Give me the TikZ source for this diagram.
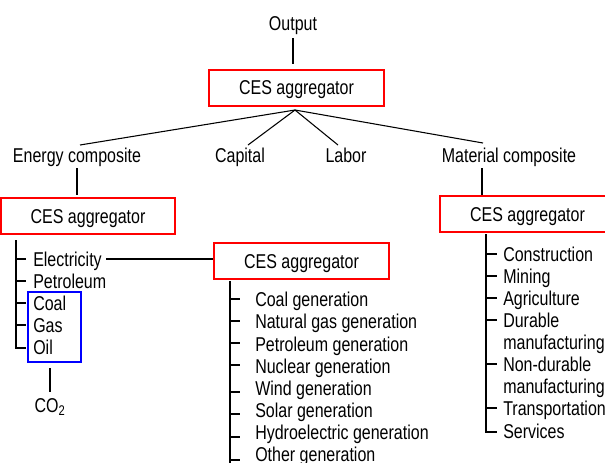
\documentclass[tikz,border=0pt]{standalone}
\usepackage{fontspec}
\setmainfont{Liberation Sans}[FakeStretch=0.8]
\begin{document}
\begin{tikzpicture}[x=0.75pt,y=-0.75pt,
  every node/.style={font=\fontsize{15}{17}\selectfont, inner sep=0pt},
  ces/.style={draw=red, line width=1.5pt, minimum width=#1*0.75pt, minimum height=27pt, text depth=0pt, text height=10.5pt},
  grp/.style={draw=blue, line width=1.3pt},
  item/.style={anchor=base west},
  lbl/.style={anchor=base},
  conn/.style={line width=0.8pt}]
\useasboundingbox (0,0) rectangle (605,462);
% top
\node[lbl] (out) at (293,30) {Output};
\node[ces=175] (top) at (296.5,87.5) {CES aggregator};
\coordinate (apex) at (295,110);
\coordinate (o1) at (293,38);
\coordinate (o2) at (293,64);
\draw[conn] (o1) -- (o2);
\node[lbl] (energy) at (77,162) {Energy composite};
\node[lbl] (capital) at (240,162) {Capital};
\node[lbl] (labor) at (346,162) {Labor};
\node[lbl] (material) at (509,162) {Material composite};
\coordinate (eL) at (80,145);
\coordinate (cL) at (248,145);
\coordinate (lL) at (338,145);
\coordinate (mL) at (483,143);
\draw[conn] (eL) -- (apex) -- (mL);
\draw[conn] (cL) -- (apex) -- (lL);
% energy branch
\node[ces=174] (eces) at (88,216) {CES aggregator};
\draw[conn] (77,168) -- (77,195);
\node[item] (elec) at (33,266) {Electricity};
\node[item] (petro) at (33,288) {Petroleum};
\node[item] (coal) at (33,310) {Coal};
\node[item] (gas) at (33,332) {Gas};
\node[item] (oil) at (33,354) {Oil};
\draw[conn] (16,240) -- (16,348) -- (26,348);
\foreach \yy in {259,281,303,325} \draw[conn] (16,\yy) -- (26,\yy);
\node[grp, minimum width=53*0.75pt, minimum height=70*0.75pt] (fossil) at (54.5,327) {};
\node[lbl] (co2) at (50,412) {CO\textsubscript{2}};
\draw[conn] (50,368) -- (50,392);
% electricity branch
\node[ces=175] (mces) at (301.5,261) {CES aggregator};
\coordinate (e1) at (106,259);
\draw[conn] (e1) -- (mces.west |- e1);
\draw[conn] (230,281) -- (230,470);
\foreach \yy/\tt in {299/Coal generation,321/Natural gas generation,344/Petroleum generation,366/Nuclear generation,388/Wind generation,410/Solar generation,432/Hydroelectric generation,454/Other generation}
  \node[item] at (255,\yy+7) {\tt};
\foreach \yy in {299,321,343,365,392,414,437,460} \draw[conn] (230,\yy) -- (240,\yy);
% material branch
\draw[conn] (482,168) -- (482,195);
\node[ces=175] (matces) at (527.5,214) {CES aggregator};
\draw[conn] (486,234) -- (486,432) -- (497,432);
\foreach \yy in {254,276,298,320,364,408} \draw[conn] (486,\yy) -- (497,\yy);
\foreach \yy/\tt in {254/Construction,276/Mining,298/Agriculture,320/Durable,342/manufacturing,364/Non-durable,386/manufacturing,408/Transportation,431/Services}
  \node[item] at (503,\yy+7) {\tt};
\end{tikzpicture}
\end{document}
